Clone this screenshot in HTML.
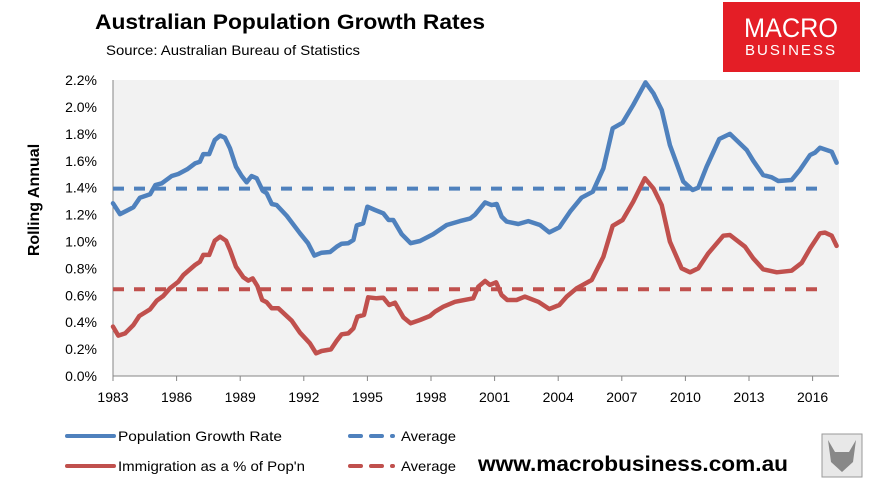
<!DOCTYPE html>
<html><head><meta charset="utf-8"><style>
html,body{margin:0;padding:0;background:#fff;width:879px;height:481px;overflow:hidden}
svg{display:block;font-family:"Liberation Sans",sans-serif}
</style></head><body>
<svg id="chart" width="879" height="481" viewBox="0 0 879 481">
<text x="95" y="29" font-size="21" font-weight="bold" fill="#000" textLength="390" lengthAdjust="spacingAndGlyphs">Australian Population Growth Rates</text>
<text x="106" y="55" font-size="14" fill="#000" textLength="254" lengthAdjust="spacingAndGlyphs">Source: Australian Bureau of Statistics</text>
<g>
<rect x="723" y="2" width="137" height="70" fill="#e41e26"/>
<text x="791" y="37" font-size="27" fill="#fff" text-anchor="middle" textLength="94" lengthAdjust="spacingAndGlyphs">MACRO</text>
<text x="791" y="55" font-size="15" fill="#fff" text-anchor="middle" textLength="92" lengthAdjust="spacingAndGlyphs" letter-spacing="2">BUSINESS</text>
</g>
<rect x="113" y="80" width="726" height="296" fill="#f2f2f2"/>
<g id="yaxis"></g>
<g id="xaxis"></g>
<g id="series"></g>
<text transform="translate(39,200) rotate(-90)" font-size="16" font-weight="bold" text-anchor="middle">Rolling Annual</text>
<g>
<line x1="67" y1="436" x2="114" y2="436" stroke="#4f81bd" stroke-width="4" stroke-linecap="round"/>
<text x="118" y="441" font-size="14" textLength="164" lengthAdjust="spacingAndGlyphs">Population Growth Rate</text>
<line x1="350" y1="436" x2="393" y2="436" stroke="#4f81bd" stroke-width="4" stroke-dasharray="11 10" stroke-linecap="round"/>
<text x="401" y="441" font-size="14" textLength="55" lengthAdjust="spacingAndGlyphs">Average</text>
<line x1="67" y1="466" x2="114" y2="466" stroke="#c0504d" stroke-width="4" stroke-linecap="round"/>
<text x="118" y="471" font-size="14" textLength="187" lengthAdjust="spacingAndGlyphs">Immigration as a % of Pop'n</text>
<line x1="350" y1="466" x2="393" y2="466" stroke="#c0504d" stroke-width="4" stroke-dasharray="11 10" stroke-linecap="round"/>
<text x="401" y="471" font-size="14" textLength="55" lengthAdjust="spacingAndGlyphs">Average</text>
</g>
<text x="478" y="471" font-size="21" font-weight="bold" textLength="310" lengthAdjust="spacingAndGlyphs">www.macrobusiness.com.au</text>
<g>
<rect x="822" y="434" width="40" height="43" fill="#e8e8e8" stroke="#999" stroke-width="1"/>
<path d="M828 440 L835 452 L849 452 L856 440 L853 462 L842 472 L831 462 Z" fill="#888"/>
</g>
</svg>
<script>
const yTicks=[0,0.2,0.4,0.6,0.8,1.0,1.2,1.4,1.6,1.8,2.0,2.2];
const xTickYears=[1983,1986,1989,1992,1995,1998,2001,2004,2007,2010,2013,2016];
const popYears=[1983.0,1983.33,1983.96,1984.27,1984.75,1985.0,1985.3,1985.77,1986.08,1986.5,1986.87,1987.1,1987.26,1987.54,1987.8,1988.05,1988.28,1988.52,1988.8,1989.07,1989.3,1989.54,1989.78,1990.06,1990.25,1990.49,1990.72,1991.2,1991.82,1992.2,1992.5,1992.84,1993.24,1993.55,1993.79,1994.1,1994.34,1994.5,1994.8,1995.0,1995.36,1995.75,1996.0,1996.22,1996.62,1997.04,1997.48,1998.1,1998.74,1999.37,1999.84,2000.08,2000.55,2000.86,2001.1,2001.33,2001.57,2002.12,2002.59,2003.14,2003.58,2004.05,2004.56,2005.1,2005.63,2006.13,2006.57,2007.04,2007.54,2008.12,2008.49,2008.88,2009.27,2009.9,2010.34,2010.61,2011.0,2011.6,2012.1,2012.89,2013.2,2013.67,2014.07,2014.38,2015.01,2015.4,2015.88,2016.11,2016.35,2016.9,2017.13];
const popValues=[1.284,1.204,1.254,1.326,1.351,1.42,1.433,1.487,1.502,1.537,1.581,1.593,1.65,1.65,1.755,1.787,1.772,1.693,1.556,1.487,1.44,1.487,1.47,1.378,1.358,1.279,1.271,1.19,1.061,0.987,0.895,0.917,0.922,0.961,0.984,0.987,1.011,1.12,1.135,1.259,1.234,1.21,1.16,1.16,1.054,0.987,1.004,1.054,1.123,1.152,1.17,1.2,1.291,1.271,1.279,1.185,1.148,1.13,1.152,1.123,1.068,1.105,1.222,1.326,1.37,1.544,1.842,1.883,2.015,2.183,2.102,1.978,1.717,1.445,1.383,1.4,1.556,1.762,1.8,1.68,1.601,1.494,1.477,1.45,1.457,1.532,1.643,1.66,1.697,1.668,1.586];
const immYears=[1983.0,1983.25,1983.57,1983.96,1984.24,1984.75,1985.06,1985.37,1985.69,1986.08,1986.32,1986.87,1987.1,1987.26,1987.54,1987.8,1988.05,1988.33,1988.52,1988.8,1989.15,1989.38,1989.59,1989.81,1990.04,1990.25,1990.49,1990.8,1991.43,1991.82,1992.29,1992.58,1992.84,1993.28,1993.55,1993.79,1994.1,1994.34,1994.53,1994.84,1995.04,1995.44,1995.75,1996.03,1996.3,1996.7,1997.04,1997.48,1997.95,1998.19,1998.58,1999.13,1999.99,2000.23,2000.55,2000.78,2001.07,2001.33,2001.6,2002.04,2002.43,2003.06,2003.58,2004.05,2004.4,2004.87,2005.58,2006.13,2006.57,2007.04,2007.54,2008.09,2008.49,2008.88,2009.27,2009.82,2010.22,2010.61,2011.08,2011.79,2012.1,2012.81,2013.2,2013.67,2014.31,2015.01,2015.49,2015.88,2016.35,2016.58,2016.9,2017.13];
const immValues=[0.367,0.30,0.317,0.379,0.446,0.496,0.56,0.595,0.652,0.701,0.751,0.825,0.85,0.9,0.9,1.006,1.036,1.006,0.937,0.813,0.734,0.709,0.726,0.669,0.565,0.548,0.503,0.503,0.411,0.322,0.243,0.169,0.186,0.198,0.262,0.31,0.317,0.354,0.441,0.454,0.585,0.578,0.582,0.528,0.545,0.436,0.392,0.416,0.446,0.478,0.515,0.552,0.578,0.664,0.706,0.677,0.697,0.602,0.565,0.565,0.59,0.552,0.498,0.528,0.59,0.652,0.714,0.887,1.117,1.16,1.296,1.47,1.395,1.271,0.999,0.801,0.771,0.801,0.912,1.043,1.048,0.961,0.875,0.793,0.771,0.783,0.842,0.949,1.061,1.066,1.043,0.967];
const averages=[1.393,0.645];
const avgEndYear=[2016.4];

const NS='http://www.w3.org/2000/svg';
const xS=y=>113+(y-1983)*21.2;
const yS=v=>376-v*134.5;
function mk(tag,attrs,parent){const e=document.createElementNS(NS,tag);for(const k in attrs)e.setAttribute(k,attrs[k]);parent.appendChild(e);return e;}
const yAx=document.getElementById('yaxis'),xAx=document.getElementById('xaxis'),ser=document.getElementById('series');
mk('line',{x1:113,y1:80,x2:113,y2:376,stroke:'#868686','stroke-width':1},yAx);
yTicks.forEach(v=>{
  const t=mk('text',{x:97,y:yS(v)+5,'font-size':14,'text-anchor':'end',fill:'#000'},yAx);
  t.textContent=v.toFixed(1)+'%';
  
  
});
mk('line',{x1:113,y1:376,x2:839,y2:376,stroke:'#868686','stroke-width':1},xAx);
xTickYears.forEach(y=>{
  mk('line',{x1:xS(y),y1:376,x2:xS(y),y2:381,stroke:'#868686','stroke-width':1},xAx);
  const t=mk('text',{x:xS(y),y:402,'font-size':14,'text-anchor':'middle',fill:'#000'},xAx);
  t.textContent=y;
  
  
});
const colors=['#4f81bd','#c0504d'];
averages.forEach((a,i)=>{
  const l=mk('line',{x1:xS(1983),y1:yS(a),x2:xS(avgEndYear[0]),y2:yS(a),stroke:colors[i],'stroke-width':4,'stroke-dasharray':'11 10'},ser);
  
  
});
[[popYears,popValues],[immYears,immValues]].forEach((s,i)=>{
  const d=s[0].map((y,j)=>(j?'L':'M')+xS(y).toFixed(1)+' '+yS(s[1][j]).toFixed(1)).join(' ');
  const p=mk('path',{d:d,fill:'none',stroke:colors[i],'stroke-width':4.5,'stroke-linejoin':'round','stroke-linecap':'round'},ser);
  
  
});
</script>
</body></html>
